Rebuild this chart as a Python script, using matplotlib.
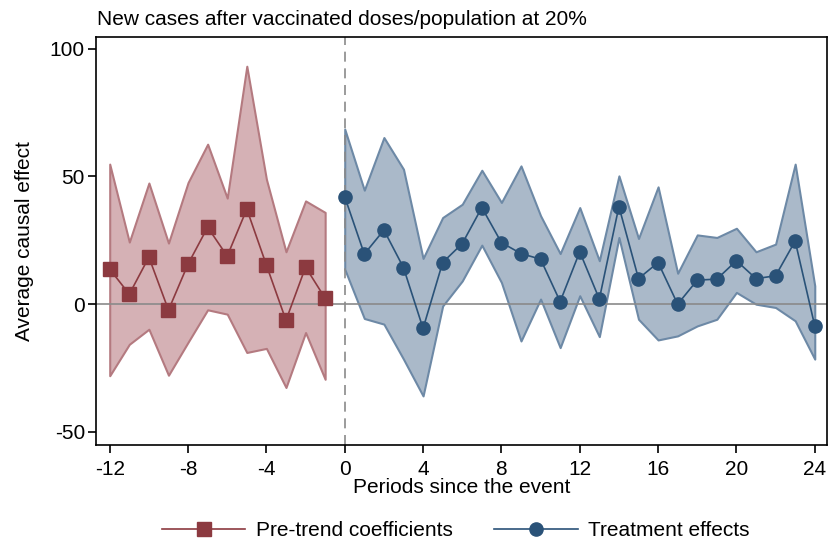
import numpy as np
import matplotlib.pyplot as plt

plt.rcParams['font.family'] = ['Liberation Sans', 'DejaVu Sans']
plt.rcParams['axes.unicode_minus'] = False

# Pre-trend coefficients (periods -12..-1)
pre_x = list(range(-12, 0))
pre_coef = [13.7, 3.9, 18.4, -2.3, 15.7, 30.1, 18.8, 37.2, 15.3, -6.3, 14.5, 2.3]
pre_hi = [54.8, 24.3, 47.4, 23.9, 47.6, 62.6, 41.5, 93.1, 48.9, 20.5, 40.4, 35.9]
pre_lo = [-28.0, -15.7, -9.8, -27.8, -14.9, -2.2, -3.9, -18.9, -17.3, -32.6, -11.1, -29.4]

# Treatment effects (periods 0..24)
post_x = list(range(0, 25))
post_coef = [42.0, 19.6, 29.0, 14.3, -9.5, 16.3, 23.7, 37.8, 24.1, 19.8, 17.6, 1.0, 20.5,
             2.0, 38.2, 10.0, 16.3, 0.0, 9.4, 9.8, 17.0, 10.0, 11.1, 24.7, -8.5]
post_hi = [68.5, 44.6, 65.2, 52.8, 17.9, 33.9, 39.1, 52.4, 39.8, 54.1, 34.6, 19.8, 37.8,
           17.0, 50.2, 25.7, 45.9, 12.1, 27.1, 26.1, 29.7, 20.5, 23.5, 54.8, 7.2]
post_lo = [13.7, -5.6, -7.8, -21.5, -35.9, -0.7, 9.1, 23.1, 8.5, -14.4, 2.0, -17.0, 3.3,
           -12.7, 26.1, -5.9, -14.0, -12.4, -8.5, -5.9, 4.6, 0.0, -1.3, -6.5, -21.5]

xticks = list(range(-12, 25, 4))
yticks = [-50, 0, 50, 100]

fig = plt.figure(figsize=(8.32, 5.46), dpi=100)
ax = fig.add_axes([0.1154, 0.185, 0.878, 0.748])

red = '#8c3a40'
blue = '#2a5278'

# shaded confidence bands
ax.fill_between(pre_x, pre_lo, pre_hi, facecolor='#d5b1b5', edgecolor='#b47a80', linewidth=1.5, zorder=1)
ax.fill_between(post_x, post_lo, post_hi, facecolor='#aab9c9', edgecolor='#6d89a6', linewidth=1.5, zorder=1)

ax.axhline(0, color='#8a8a8a', linewidth=1.2, zorder=2)
ax.axvline(0, color='#8a8a8a', linewidth=1.2, linestyle=(0, (6, 4)), zorder=2)

ax.plot(pre_x, pre_coef, color=red, marker='s', markersize=9.5, linewidth=1.2,
        label='Pre-trend coefficients', zorder=3)
ax.plot(post_x, post_coef, color=blue, marker='o', markersize=9.5, linewidth=1.2,
        label='Treatment effects', zorder=3)

ax.set_xlim(-12.7, 24.6)
ax.set_ylim(-55.1, 104.7)
ax.set_xticks(xticks)
ax.set_yticks(yticks)
ax.tick_params(axis='x', labelsize=15, length=6, width=1.2, direction='out', pad=5)
ax.tick_params(axis='y', labelsize=15, length=6, width=1.2, direction='out', pad=2)
for s in ax.spines.values():
    s.set_linewidth(1.2)

ax.set_xlabel('Periods since the event', fontsize=15, labelpad=-1)
ax.set_ylabel('Average causal effect', fontsize=15, labelpad=11)
fig.text(0.116, 0.965, 'New cases after vaccinated doses/population at 20%', fontsize=15, va='center')

handles, labels = ax.get_legend_handles_labels()
fig.legend(handles, labels, loc='center', bbox_to_anchor=(0.548, 0.028), ncol=2, frameon=False,
           fontsize=15, handlelength=4.0, columnspacing=2.0, handletextpad=0.5)

fig.savefig('out.png', dpi=100)
